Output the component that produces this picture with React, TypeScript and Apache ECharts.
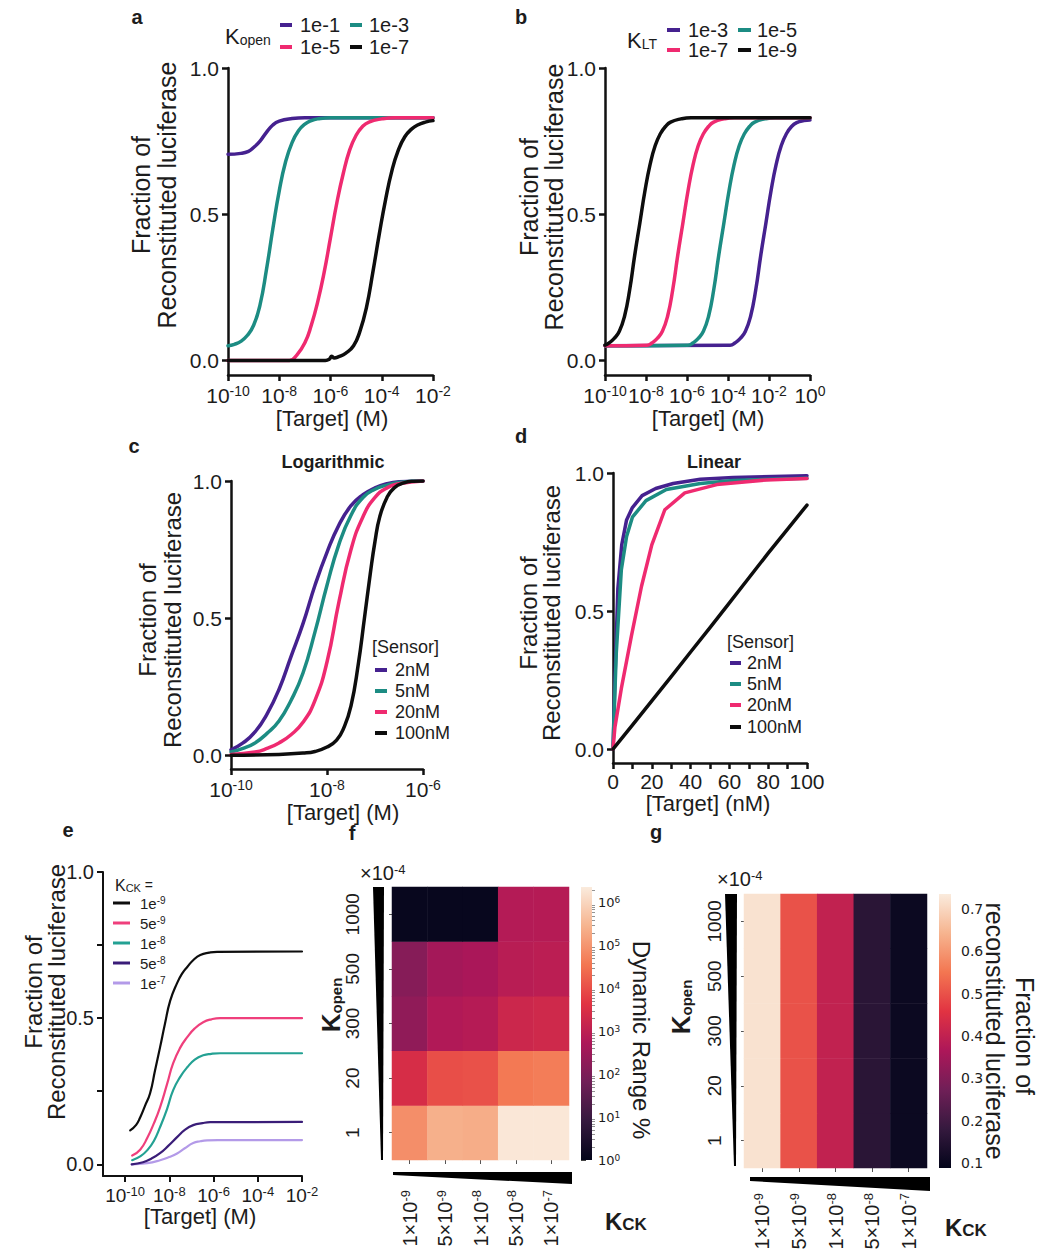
import React, { useEffect, useRef } from 'react';
import * as echarts from 'echarts';

// ---------------- colours ----------------
const PURPLE = '#45218f';
const TEAL = '#1c8c83';
const PINK = '#ef2a70';
const BLACK = '#0d0d0d';
const E_PURPLE = '#3a1d78';
const E_LAVENDER = '#b39ae8';
const E_TEAL = '#23a193';
const E_PINK = '#ef3f7c';
const ROCKET = ['#03051a', '#35193e', '#701f57', '#ad1759', '#e13342', '#f37651', '#f6b48f', '#faebdd'];

// ---------------- panel a : K_open (x = log10 [Target] / M) ----------------
const aOpen1e1 = [[-10, 0.705], [-9.5, 0.708], [-9.2, 0.715], [-9, 0.728], [-8.75, 0.75], [-8.5, 0.78], [-8.25, 0.805], [-8, 0.818], [-7.5, 0.827], [-7, 0.83], [-2, 0.83]];
const aOpen1e3 = [[-10, 0.05], [-9.75, 0.055], [-9.5, 0.065], [-9.25, 0.085], [-9, 0.12], [-8.75, 0.19], [-8.5, 0.31], [-8.25, 0.45], [-8, 0.58], [-7.75, 0.68], [-7.5, 0.745], [-7.25, 0.785], [-7, 0.808], [-6.75, 0.82], [-6.5, 0.826], [-6, 0.83], [-2, 0.83]];
const aOpen1e5 = [[-10, 0], [-7.6, 0], [-7.3, 0.02], [-7, 0.06], [-6.75, 0.12], [-6.5, 0.2], [-6.25, 0.3], [-6, 0.42], [-5.75, 0.54], [-5.5, 0.64], [-5.25, 0.72], [-5, 0.77], [-4.75, 0.8], [-4.5, 0.815], [-4, 0.826], [-3.5, 0.83], [-2, 0.83]];
const aOpen1e7 = [[-10, 0], [-6.2, 0], [-6.05, 0.004], [-5.95, 0.014], [-5.85, 0.008], [-5.7, 0.012], [-5.4, 0.025], [-5.1, 0.05], [-4.85, 0.1], [-4.6, 0.18], [-4.35, 0.3], [-4.1, 0.43], [-3.85, 0.55], [-3.6, 0.65], [-3.35, 0.72], [-3.1, 0.765], [-2.85, 0.79], [-2.6, 0.805], [-2.3, 0.815], [-2, 0.82]];
const aLegend = ['1e-1', '1e-3', '1e-5', '1e-7'];

// ---------------- panel b : K_LT ----------------
const bLT1e3 = [[-10, 0.05], [-3.9, 0.052], [-3.65, 0.06], [-3.4, 0.075], [-3.15, 0.1], [-2.9, 0.15], [-2.65, 0.24], [-2.4, 0.36], [-2.15, 0.47], [-1.9, 0.58], [-1.65, 0.67], [-1.4, 0.735], [-1.15, 0.775], [-0.9, 0.8], [-0.65, 0.813], [-0.3, 0.82], [0, 0.822]];
const bLT1e5 = [[-10, 0.05], [-5.95, 0.052], [-5.7, 0.06], [-5.45, 0.075], [-5.2, 0.1], [-4.95, 0.15], [-4.7, 0.24], [-4.45, 0.36], [-4.2, 0.47], [-3.95, 0.58], [-3.7, 0.67], [-3.45, 0.735], [-3.2, 0.775], [-2.95, 0.8], [-2.7, 0.815], [-2.2, 0.826], [-1.7, 0.83], [0, 0.83]];
const bLT1e7 = [[-10, 0.05], [-7.95, 0.052], [-7.7, 0.06], [-7.45, 0.075], [-7.2, 0.1], [-6.95, 0.15], [-6.7, 0.24], [-6.45, 0.36], [-6.2, 0.47], [-5.95, 0.58], [-5.7, 0.67], [-5.45, 0.735], [-5.2, 0.775], [-4.95, 0.8], [-4.7, 0.815], [-4.2, 0.826], [-3.7, 0.83], [0, 0.83]];
const bLT1e9 = [[-10, 0.052], [-9.8, 0.06], [-9.55, 0.075], [-9.3, 0.1], [-9.05, 0.15], [-8.8, 0.24], [-8.55, 0.36], [-8.3, 0.47], [-8.05, 0.58], [-7.8, 0.67], [-7.55, 0.735], [-7.3, 0.775], [-7.05, 0.8], [-6.8, 0.815], [-6.3, 0.826], [-5.8, 0.83], [0, 0.83]];
const bLegend = ['1e-3', '1e-5', '1e-7', '1e-9'];

// ---------------- panel c : logarithmic, [Sensor] ----------------
const cSensor2 = [[-10, 0.02], [-9.75, 0.045], [-9.5, 0.085], [-9.25, 0.15], [-9, 0.24], [-8.75, 0.36], [-8.5, 0.48], [-8.25, 0.62], [-8, 0.74], [-7.75, 0.84], [-7.5, 0.91], [-7.25, 0.95], [-7, 0.975], [-6.75, 0.99], [-6.5, 0.997], [-6, 1.0]];
const cSensor5 = [[-10, 0.012], [-9.75, 0.025], [-9.5, 0.045], [-9.25, 0.08], [-9, 0.125], [-8.75, 0.2], [-8.5, 0.3], [-8.25, 0.45], [-8, 0.62], [-7.75, 0.77], [-7.5, 0.875], [-7.25, 0.94], [-7, 0.97], [-6.75, 0.985], [-6.5, 0.995], [-6, 1.0]];
const cSensor20 = [[-10, 0.003], [-9.5, 0.012], [-9.25, 0.025], [-9, 0.045], [-8.75, 0.075], [-8.5, 0.12], [-8.25, 0.2], [-8, 0.34], [-7.75, 0.56], [-7.5, 0.75], [-7.25, 0.87], [-7, 0.94], [-6.75, 0.975], [-6.5, 0.99], [-6, 1.0]];
const cSensor100 = [[-10, 0], [-9, 0.003], [-8.5, 0.008], [-8.25, 0.014], [-8, 0.03], [-7.8, 0.055], [-7.65, 0.1], [-7.5, 0.18], [-7.35, 0.33], [-7.22, 0.5], [-7.1, 0.66], [-7, 0.78], [-6.9, 0.87], [-6.75, 0.94], [-6.6, 0.975], [-6.4, 0.993], [-6.2, 0.999], [-6, 1.0]];
const sensorLegend = ['2nM', '5nM', '20nM', '100nM'];

// ---------------- panel d : linear, [Target] nM ----------------
const dSensor2 = [[0, 0], [1, 0.25], [2.5, 0.58], [4.5, 0.74], [7, 0.83], [10, 0.875], [15, 0.918], [22, 0.944], [31, 0.962], [45, 0.977], [62, 0.984], [100, 0.99]];
const dSensor5 = [[0, 0], [0.8, 0.17], [1.7, 0.35], [4.3, 0.65], [7, 0.77], [10, 0.84], [17, 0.9], [27.5, 0.94], [45, 0.962], [62, 0.973], [100, 0.981]];
const dSensor20 = [[0, 0], [1, 0.08], [4.3, 0.22], [9.5, 0.41], [14.7, 0.59], [20, 0.74], [26.7, 0.867], [37, 0.928], [53.5, 0.958], [79, 0.975], [100, 0.98]];
const dSensor100 = [[0, 0], [10, 0.087], [20, 0.175], [30, 0.263], [40, 0.352], [50, 0.44], [60, 0.53], [70, 0.62], [80, 0.71], [90, 0.797], [100, 0.884]];

// ---------------- panel e : K_CK ----------------
const eCK1e9 = [[-9.77, 0.116], [-9.5, 0.135], [-9.32, 0.16], [-9.1, 0.2], [-8.87, 0.243], [-8.65, 0.32], [-8.42, 0.4], [-8.2, 0.48], [-7.96, 0.56], [-7.65, 0.62], [-7.4, 0.655], [-7.19, 0.675], [-6.9, 0.7], [-6.6, 0.716], [-6.2, 0.724], [-5.84, 0.727], [-2, 0.728]];
const eCK5e9 = [[-9.68, 0.03], [-9.32, 0.05], [-9, 0.09], [-8.7, 0.14], [-8.42, 0.195], [-8.1, 0.275], [-7.83, 0.345], [-7.5, 0.4], [-7.19, 0.435], [-6.85, 0.465], [-6.47, 0.486], [-6.1, 0.496], [-5.7, 0.5], [-2, 0.5]];
const eCK1e8 = [[-9.68, 0.014], [-9.3, 0.028], [-9, 0.048], [-8.7, 0.08], [-8.42, 0.127], [-8.1, 0.19], [-7.83, 0.253], [-7.5, 0.3], [-7.19, 0.332], [-6.85, 0.358], [-6.47, 0.373], [-6.1, 0.378], [-5.7, 0.38], [-2, 0.38]];
const eCK5e8 = [[-9.7, 0.0], [-9.19, 0.007], [-8.8, 0.02], [-8.42, 0.038], [-8.05, 0.063], [-7.65, 0.093], [-7.3, 0.118], [-6.92, 0.134], [-6.5, 0.141], [-6.15, 0.144], [-2, 0.145]];
const eCK1e7 = [[-9.7, 0.0], [-9, 0.004], [-8.42, 0.014], [-8, 0.025], [-7.65, 0.037], [-7.3, 0.055], [-6.92, 0.073], [-6.6, 0.079], [-6.29, 0.082], [-5.8, 0.083], [-2, 0.083]];
const eLegend = ['1e^-9', '5e^-9', '1e^-8', '5e^-8', '1e^-7'];

// ---------------- panels f, g : heatmaps ----------------
const kckCategories = ['1×10^-9', '5×10^-9', '1×10^-8', '5×10^-8', '1×10^-7'];
const kopenRows = ['1', '20', '300', '500', '1000']; // bottom -> top
// log10(dynamic range %), rows bottom -> top
const fDynamicRangeLog10 = [
  [4.9, 5.4, 5.35, 6.3, 6.3],
  [3.45, 4.0, 4.05, 4.6, 4.65],
  [2.3, 2.8, 2.87, 3.25, 3.3],
  [2.15, 2.6, 2.68, 2.92, 2.97],
  [0.1, 0.1, 0.1, 2.85, 2.87],
];
const fLogMin = 0;
const fLogMax = 6.37;
const fCbarExponents = [0, 1, 2, 3, 4, 5, 6];
const gFractionByKck = [0.72, 0.5, 0.4, 0.16, 0.105];
const gMin = 0.088;
const gMax = 0.735;
const gCbarTicks = [0.1, 0.2, 0.3, 0.4, 0.5, 0.6, 0.7];

// ---------------- styling helpers ----------------
const FONT = '"Liberation Sans", Arial, Helvetica, sans-serif';
const DJ = '"DejaVu Sans", sans-serif';
const INK = '#1c1c1c';

function supRich(fs: number, sfs: number, family = FONT) {
  return {
    b: { fontSize: fs, fontFamily: family, color: INK, lineHeight: fs + 1 },
    s: { fontSize: sfs, fontFamily: family, color: INK, verticalAlign: 'top', lineHeight: sfs + 1 },
  };
}

function logXAxis(gi: number, min: number, max: number, ticks: number[], fs = 21, sfs = 14, lw = 2.5) {
  return {
    type: 'value', gridIndex: gi, min, max,
    axisLine: { show: true, onZero: false, lineStyle: { color: '#111', width: lw } },
    axisTick: { show: true, length: 6, lineStyle: { color: '#111', width: lw }, customValues: ticks },
    axisLabel: {
      customValues: ticks, margin: 9,
      formatter: (v: number) => `{b|10}{s|${v}}`,
      rich: supRich(fs, sfs),
    },
    splitLine: { show: false },
  };
}

function fracYAxis(gi: number, min: number, ticks: number[], labels: number[], fs = 21, lw = 2.5) {
  return {
    type: 'value', gridIndex: gi, min, max: 1,
    axisLine: { show: true, onZero: false, lineStyle: { color: '#111', width: lw } },
    axisTick: { show: true, length: 6, lineStyle: { color: '#111', width: lw }, customValues: ticks },
    axisLabel: {
      customValues: labels, margin: 9, color: INK, fontSize: fs, fontFamily: FONT,
      formatter: (v: number) => v.toFixed(1),
    },
    splitLine: { show: false },
  };
}

function line(gi: number, name: string, data: number[][], color: string, width: number, z: number, smooth: number | boolean = 0.5) {
  return {
    type: 'line', name, xAxisIndex: gi, yAxisIndex: gi, data, symbol: 'none', showSymbol: false,
    smooth, lineStyle: { color, width, cap: 'round', join: 'round' }, z, silent: true,
  };
}

function T(x: number, y: number, text: string, o: any = {}) {
  const align = o.align || 'center';
  const va = o.va || 'middle';
  return {
    type: 'text', x, y, rotation: o.rotation || 0, silent: true, z: 100,
    style: {
      text, fill: o.color || INK,
      fontSize: o.fs || 20, fontFamily: o.family || FONT, fontWeight: o.bold ? 'bold' : 'normal',
      align, verticalAlign: va, textAlign: align, textVerticalAlign: va,
      rich: o.rich,
    },
  };
}

function R(x: number, y: number, w: number, h: number, color: string) {
  return { type: 'rect', silent: true, z: 100, shape: { x, y, width: w, height: h }, style: { fill: color } };
}

function P(points: number[][]) {
  return { type: 'polygon', silent: true, z: 100, shape: { points }, style: { fill: '#000' } };
}

function subRich(fs: number, sfs: number, bold = false) {
  const w = bold ? 'bold' : 'normal';
  return {
    k: { fontSize: fs, fontFamily: FONT, fontWeight: w },
    o: { fontSize: sfs, fontFamily: FONT, fontWeight: w, verticalAlign: 'bottom' },
    t: { fontSize: sfs + 3, fontFamily: FONT, fontWeight: w },
  };
}

const gradient = {
  type: 'linear', x: 0, y: 1, x2: 0, y2: 0,
  colorStops: ROCKET.map((c, i) => ({ offset: i / (ROCKET.length - 1), color: c })),
};

function buildOption() {
  const grid = [
    { left: 228, top: 68, width: 205, height: 307 },
    { left: 605, top: 68, width: 205, height: 307 },
    { left: 231, top: 481, width: 192, height: 288 },
    { left: 613, top: 473, width: 194, height: 290 },
    { left: 103, top: 872, width: 199, height: 304 },
    { left: 392, top: 887, width: 177, height: 273 },
    { left: 581, top: 887, width: 11, height: 273 },
    { left: 744, top: 894, width: 183, height: 274 },
    { left: 939, top: 894, width: 12, height: 274 },
  ].map((g) => ({ ...g, containLabel: false, outerBoundsMode: 'none', show: false }));

  const heatCatX = (gi: number, margin: number) => ({
    type: 'category', gridIndex: gi, data: kckCategories, position: 'bottom',
    axisLine: { show: false },
    axisTick: { show: true, alignWithLabel: true, length: 4, lineStyle: { color: '#555', width: 1 } },
    axisLabel: {
      rotate: 90, margin, interval: 0,
      formatter: (v: string) => { const [m, e] = v.split('^'); return `{b|${m}}{s|${e}}`; },
      rich: supRich(20, 13),
    },
    splitLine: { show: false },
  });
  const heatCatY = (gi: number, margin: number) => ({
    type: 'category', gridIndex: gi, data: kopenRows, position: 'left',
    axisLine: { show: false },
    axisTick: { show: true, alignWithLabel: true, length: 3, lineStyle: { color: '#555', width: 1 } },
    axisLabel: { rotate: 90, margin, interval: 0, color: INK, fontSize: 19, fontFamily: FONT },
    splitLine: { show: false },
  });

  const minorLogTicks: number[] = [];
  for (let n = 0; n < 7; n++) {
    for (let k = 2; k <= 9; k++) {
      const t = n + Math.log10(k);
      if (t < fLogMax) minorLogTicks.push(t);
    }
  }

  const xAxis = [
    logXAxis(0, -10, -2, [-10, -8, -6, -4, -2]),
    logXAxis(1, -10, 0, [-10, -8, -6, -4, -2, 0]),
    logXAxis(2, -10, -6, [-10, -8, -6]),
    {
      type: 'value', gridIndex: 3, min: 0, max: 100,
      axisLine: { show: true, onZero: false, lineStyle: { color: '#111', width: 2.5 } },
      axisTick: { show: true, length: 6, lineStyle: { color: '#111', width: 2.5 }, customValues: [0, 10, 20, 30, 40, 50, 60, 70, 80, 90, 100] },
      axisLabel: { customValues: [0, 20, 40, 60, 80, 100], margin: 8, color: INK, fontSize: 21, fontFamily: FONT },
      splitLine: { show: false },
    },
    logXAxis(4, -11, -2, [-10, -8, -6, -4, -2], 19, 13, 2),
    heatCatX(5, 30),
    { type: 'value', gridIndex: 6, show: false, min: 0, max: 1 },
    heatCatX(7, 25),
    { type: 'value', gridIndex: 8, show: false, min: 0, max: 1 },
  ];

  const yAxis = [
    fracYAxis(0, -0.05, [0, 0.5, 1], [0, 0.5, 1]),
    fracYAxis(1, -0.05, [0, 0.5, 1], [0, 0.5, 1]),
    fracYAxis(2, -0.05, [0, 0.5, 1], [0, 0.5, 1]),
    fracYAxis(3, -0.05, [0, 0.5, 1], [0, 0.5, 1]),
    fracYAxis(4, -0.04, [0, 0.25, 0.5, 0.75, 1], [0, 0.5, 1], 20, 2),
    heatCatY(5, 30),
    {
      type: 'value', gridIndex: 6, position: 'right', offset: 0, min: fLogMin, max: fLogMax,
      axisLine: { show: false },
      axisTick: { show: true, length: 5, lineStyle: { color: '#444', width: 1 }, customValues: fCbarExponents },
      axisLabel: { customValues: fCbarExponents, margin: 6, formatter: (v: number) => `{b|10}{s|${v}}`, rich: supRich(13, 9, DJ) },
      splitLine: { show: false },
    },
    heatCatY(7, 20),
    {
      type: 'value', gridIndex: 8, position: 'right', offset: 0, min: gMin, max: gMax,
      axisLine: { show: false },
      axisTick: { show: true, length: 5, lineStyle: { color: '#444', width: 1 }, customValues: gCbarTicks },
      axisLabel: { customValues: gCbarTicks, margin: 10, color: INK, fontSize: 14, fontFamily: DJ, formatter: (v: number) => v.toFixed(1) },
      splitLine: { show: false },
    },
    {
      type: 'value', gridIndex: 6, position: 'right', offset: 0, min: fLogMin, max: fLogMax,
      axisLine: { show: false },
      axisTick: { show: true, length: 3, lineStyle: { color: '#777', width: 0.8 }, customValues: minorLogTicks },
      axisLabel: { show: false },
      splitLine: { show: false },
    },
  ];

  const series: any[] = [
    line(0, 'a 1e-1', aOpen1e1, PURPLE, 3.5, 2),
    line(0, 'a 1e-3', aOpen1e3, TEAL, 3.5, 3),
    line(0, 'a 1e-5', aOpen1e5, PINK, 3.5, 4),
    line(0, 'a 1e-7', aOpen1e7, BLACK, 3.5, 5),
    line(1, 'b 1e-3', bLT1e3, PURPLE, 3.5, 2),
    line(1, 'b 1e-5', bLT1e5, TEAL, 3.5, 3),
    line(1, 'b 1e-7', bLT1e7, PINK, 3.5, 4),
    line(1, 'b 1e-9', bLT1e9, BLACK, 3.5, 5),
    line(2, 'c 2nM', cSensor2, PURPLE, 3.5, 2),
    line(2, 'c 5nM', cSensor5, TEAL, 3.5, 3),
    line(2, 'c 20nM', cSensor20, PINK, 3.5, 4),
    line(2, 'c 100nM', cSensor100, BLACK, 3.5, 5),
    line(3, 'd 2nM', dSensor2, PURPLE, 3.5, 2, false),
    line(3, 'd 5nM', dSensor5, TEAL, 3.5, 3, false),
    line(3, 'd 20nM', dSensor20, PINK, 3.5, 4, false),
    line(3, 'd 100nM', dSensor100, BLACK, 3.5, 5, false),
    line(4, 'e 1e-7', eCK1e7, E_LAVENDER, 2.2, 2),
    line(4, 'e 5e-8', eCK5e8, E_PURPLE, 2.2, 3),
    line(4, 'e 1e-8', eCK1e8, E_TEAL, 2.2, 4),
    line(4, 'e 5e-9', eCK5e9, E_PINK, 2.2, 5),
    line(4, 'e 1e-9', eCK1e9, BLACK, 2.2, 6),
  ];
  const fIndex = series.length;
  series.push({
    type: 'heatmap', name: 'Dynamic Range %', xAxisIndex: 5, yAxisIndex: 5,
    data: fDynamicRangeLog10.flatMap((row, r) => row.map((v, c) => [c, r, v])),
    itemStyle: { borderWidth: 0 }, silent: true,
  });
  const gIndex = series.length;
  series.push({
    type: 'heatmap', name: 'Fraction of reconstituted luciferase', xAxisIndex: 7, yAxisIndex: 7,
    data: kopenRows.flatMap((_, r) => gFractionByKck.map((v, c) => [c, r, v])),
    itemStyle: { borderWidth: 0 }, silent: true,
  });

  const visualMap = [
    { type: 'continuous', show: false, seriesIndex: fIndex, min: fLogMin, max: fLogMax, inRange: { color: ROCKET } },
    { type: 'continuous', show: false, seriesIndex: gIndex, min: gMin, max: gMax, inRange: { color: ROCKET } },
  ];

  const lg = 20;
  const aColors = [PURPLE, TEAL, PINK, BLACK];
  const sColors = [PURPLE, TEAL, PINK, BLACK];
  const eColors = [BLACK, E_PINK, E_TEAL, E_PURPLE, E_LAVENDER];
  const rot = Math.PI / 2;

  const graphic: any[] = [
    // panel letters
    T(137, 17, 'a', { bold: true, fs: 20 }),
    T(521, 17, 'b', { bold: true, fs: 20 }),
    T(134, 446, 'c', { bold: true, fs: 20 }),
    T(521, 436, 'd', { bold: true, fs: 20 }),
    T(68, 830, 'e', { bold: true, fs: 20 }),
    T(352, 833, 'f', { bold: true, fs: 20 }),
    T(656, 832, 'g', { bold: true, fs: 20 }),
    // y titles
    T(141, 195, 'Fraction of', { fs: 25, rotation: rot }),
    T(167, 195, 'Reconstituted luciferase', { fs: 25, rotation: rot }),
    T(529, 197, 'Fraction of', { fs: 25, rotation: rot }),
    T(554, 197, 'Reconstituted luciferase', { fs: 25, rotation: rot }),
    T(147, 620, 'Fraction of', { fs: 24, rotation: rot }),
    T(172, 620, 'Reconstituted luciferase', { fs: 24, rotation: rot }),
    T(528, 613, 'Fraction of', { fs: 24, rotation: rot }),
    T(551, 613, 'Reconstituted luciferase', { fs: 24, rotation: rot }),
    T(33, 992, 'Fraction of', { fs: 24, rotation: rot }),
    T(56, 992, 'Reconstituted luciferase', { fs: 24, rotation: rot }),
    // x titles
    T(332, 418, '[Target] (M)', { fs: 22 }),
    T(708, 418, '[Target] (M)', { fs: 22 }),
    T(343, 812, '[Target] (M)', { fs: 22 }),
    T(708, 803, '[Target] (nM)', { fs: 22 }),
    T(200, 1216, '[Target] (M)', { fs: 22 }),
    // panel titles
    T(333, 462, 'Logarithmic', { fs: 18, bold: true }),
    T(714, 462, 'Linear', { fs: 18, bold: true }),
    // legend titles
    T(225, 36, '{k|K}{o|open}', { align: 'left', rich: subRich(22, 14) }),
    T(627, 40, '{k|K}{o|LT}', { align: 'left', rich: subRich(22, 14) }),
    T(372, 647, '[Sensor]', { align: 'left', fs: 18 }),
    T(727, 642, '[Sensor]', { align: 'left', fs: 18 }),
    T(115, 885, '{k|K}{o|CK}{t| =}', { align: 'left', rich: subRich(16, 11) }),
    // heatmap annotations
    T(360, 873, '{b|×10}{s|-4}', { align: 'left', rich: supRich(20, 13) }),
    T(717, 879, '{b|×10}{s|-4}', { align: 'left', rich: supRich(20, 13) }),
    T(331, 1005, '{k|K}{o|open}', { rotation: rot, rich: subRich(26, 15, true) }),
    T(681, 1007, '{k|K}{o|open}', { rotation: rot, rich: subRich(26, 15, true) }),
    T(605, 1221, '{k|K}{o|CK}', { align: 'left', rich: subRich(24, 17, true) }),
    T(945, 1227, '{k|K}{o|CK}', { align: 'left', rich: subRich(24, 17, true) }),
    T(641, 1040, 'Dynamic Range %', { fs: 24, rotation: -rot }),
    T(1025, 1036, 'Fraction of', { fs: 25, rotation: -rot }),
    T(995, 1031, 'reconstituted luciferase', { fs: 25, rotation: -rot }),
    // wedges
    P([[373, 887], [384, 887], [383, 1160], [381, 1160]]),
    P([[393, 1172], [572, 1172], [572, 1184], [393, 1175]]),
    P([[725, 894], [737, 894], [736, 1166], [734, 1166]]),
    P([[750, 1177], [930, 1177], [930, 1191], [750, 1181]]),
    // colour bars
    { type: 'rect', silent: true, z: 1, shape: { x: 581, y: 887, width: 11, height: 273 }, style: { fill: gradient } },
    { type: 'rect', silent: true, z: 1, shape: { x: 939, y: 894, width: 12, height: 274 }, style: { fill: gradient } },
  ];

  const aPos = [[280, 25, 300], [350, 25, 369], [280, 47, 300], [350, 47, 369]];
  aLegend.forEach((name, i) => {
    const [rx, cy, tx] = aPos[i];
    graphic.push(R(rx, cy - 2, 12, 4, aColors[i]));
    graphic.push(T(tx, cy, name, { align: 'left', fs: lg }));
  });
  const bPos = [[667, 30, 688], [738, 30, 757], [667, 50, 688], [738, 50, 757]];
  bLegend.forEach((name, i) => {
    const [rx, cy, tx] = bPos[i];
    graphic.push(R(rx, cy - 2, 13, 4, aColors[i]));
    graphic.push(T(tx, cy, name, { align: 'left', fs: lg }));
  });
  const cRows = [670, 691, 712, 733];
  const dRows = [663, 684, 705, 727];
  sensorLegend.forEach((name, i) => {
    graphic.push(R(375, cRows[i] - 2, 12, 4, sColors[i]));
    graphic.push(T(395, cRows[i], name, { align: 'left', fs: 18 }));
    graphic.push(R(730, dRows[i] - 2, 11, 4, sColors[i]));
    graphic.push(T(747, dRows[i], name, { align: 'left', fs: 18 }));
  });
  eLegend.forEach((name, i) => {
    const y = 903 + 20 * i;
    const [m, e] = name.split('^');
    graphic.push(R(113, y - 1.5, 17, 3, eColors[i]));
    graphic.push(T(140, y, `{b|${m}}{s|${e}}`, { align: 'left', rich: supRich(15, 10) }));
  });

  return {
    animation: false,
    backgroundColor: '#ffffff',
    textStyle: { fontFamily: FONT },
    grid, xAxis, yAxis, series, visualMap, graphic,
  };
}

export default function App() {
  const ref = useRef<HTMLDivElement>(null);
  useEffect(() => {
    const chart = echarts.init(ref.current as HTMLDivElement, null, { renderer: 'svg', width: 1040, height: 1256 });
    chart.setOption(buildOption() as any);
    return () => chart.dispose();
  }, []);
  return (
    <div
      ref={ref}
      style={{ position: 'absolute', left: 0, top: 0, width: 1040, height: 1256, background: '#fff' }}
    />
  );
}
